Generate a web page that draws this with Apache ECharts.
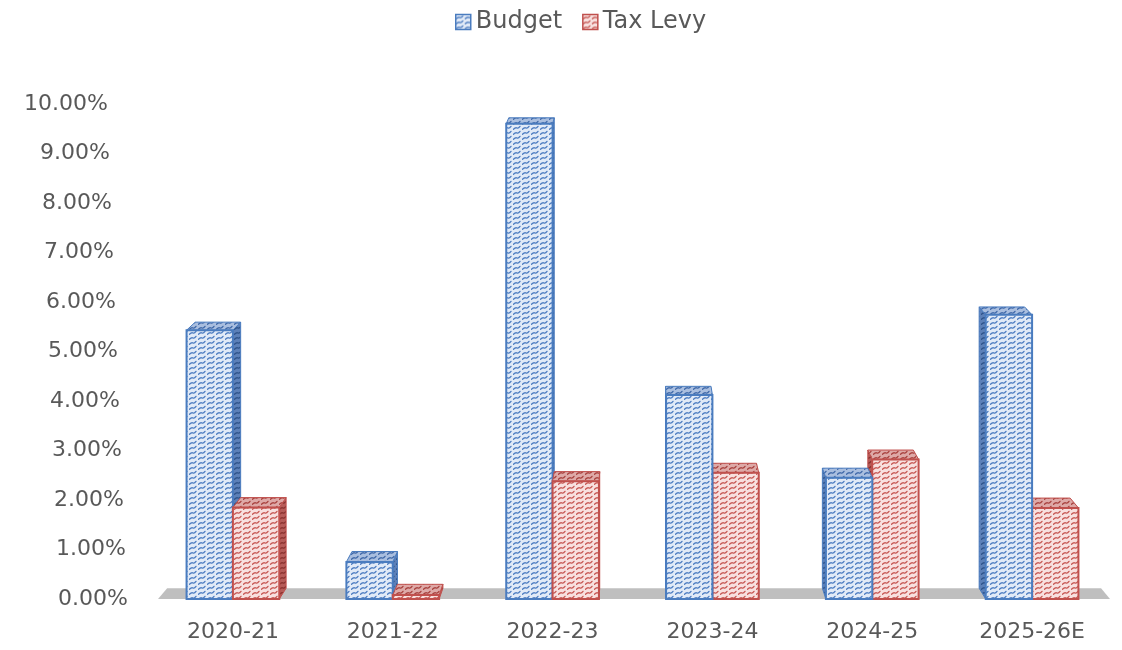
<!DOCTYPE html>
<html><head><meta charset="utf-8">
<script src="https://cdn.jsdelivr.net/npm/echarts@6/dist/echarts.min.js"></script>
<style>html,body{margin:0;padding:0;background:#fff}#c{width:1122px;height:650px}</style>
</head><body><div id="c"></div>
<script>
const categories = ['2020-21', '2021-22', '2022-23', '2023-24', '2024-25', '2025-26E'];
const budget = [5.43, 0.75, 9.6, 4.12, 2.45, 5.74];
const taxLevy = [1.85, 0.08, 2.38, 2.55, 2.82, 1.84];
const yMin = 0, yMax = 10, yStep = 1;

const FONT = 'DejaVu Sans';
const TXT = '#595959';

function pat(bg, fg) {
  const c = document.createElement('canvas');
  c.width = 9; c.height = 5;
  const g = c.getContext('2d');
  g.fillStyle = bg; g.fillRect(0, 0, 9, 5);
  g.strokeStyle = fg; g.lineWidth = 1.3; g.lineCap = 'round';
  g.beginPath();
  g.moveTo(0.5, 4.3); g.quadraticCurveTo(2.5, 2.2, 4, 3.0); g.quadraticCurveTo(5.5, 3.6, 7, 1.4);
  g.stroke();
  return { image: c, repeat: 'repeat' };
}
const P = {
  blue: { front: pat('#e1eaf7', '#4d7cc0'), top: pat('#a9bedf', '#3f68a8'), side: pat('#5c80b8', '#2e528a'), line: '#4a7cbf' },
  red: { front: pat('#f8e0df', '#c65854'), top: pat('#dea9a7', '#a8413e'), side: pat('#b65c59', '#88302e'), line: '#c0504d' }
};

const VX = 640, VY = -477, KX = 0.019, KY = 0.01;
function back(p) { return [p[0] + (VX - p[0]) * KX, p[1] + (VY - p[1]) * KY]; }

function makeRender(side, C) {
  return function (params, api) {
    const i = api.value(0), v = api.value(1);
    const c = api.coord([i, v]);
    const base = api.coord([i, 0]);
    const band = api.size([1, 0])[0];
    const w = band * 0.29;
    const xl = side < 0 ? c[0] - w : c[0];
    const xr = xl + w;
    const yt = c[1], yb = base[1];
    const FL = [xl, yt], FR = [xr, yt], FLb = [xl, yb], FRb = [xr, yb];
    const BL = back(FL), BR = back(FR);
    const leftRegion = (VX - c[0]) > 0;
    const order = leftRegion ? (side < 0 ? 0 : 1) : (side < 0 ? 1 : 0);
    const z = 10 + order * 5;
    const children = [];
    if (BR[0] > FR[0] + 0.3) {
      children.push({ type: 'polygon', z2: z, shape: { points: [FR, BR, back(FRb), FRb] },
        style: { fill: C.side, stroke: C.line, lineWidth: 1 } });
    }
    if (BL[0] < FL[0] - 0.3) {
      children.push({ type: 'polygon', z2: z, shape: { points: [FL, BL, back(FLb), FLb] },
        style: { fill: C.side, stroke: C.line, lineWidth: 1 } });
    }
    children.push({ type: 'polygon', z2: z + 1, shape: { points: [FL, FR, BR, BL] },
      style: { fill: C.top, stroke: C.line, lineWidth: 1 } });
    children.push({ type: 'rect', z2: z + 2, shape: { x: xl, y: yt, width: w, height: yb - yt },
      style: { fill: C.front, stroke: C.line, lineWidth: 2 } });
    return { type: 'group', children: children };
  };
}

function floorRender(params, api) {
  const band = api.size([1, 0])[0];
  const p0 = api.coord([0, 0]);
  const p1 = api.coord([categories.length - 1, 0]);
  const x0 = p0[0] - band / 2 + 5, x1 = p1[0] + band / 2 - 2, y = p0[1];
  return { type: 'polygon', z2: 1, shape: { points: [[x0, y], [x1, y], back([x1, y]), back([x0, y])] },
    style: { fill: '#bfbfbf' } };
}

const rich = {};
for (let t = yMin; t <= yMax; t += yStep) {
  rich['t' + t] = { fontFamily: FONT, fontSize: 22, color: TXT, padding: [0, t * 2, 0, 0] };
}

const chart = echarts.init(document.getElementById('c'));
chart.setOption({
  animation: false,
  backgroundColor: '#fff',
  legend: {
    left: 450, top: 5, itemWidth: 15, itemHeight: 15, itemGap: 20,
    textStyle: { fontFamily: FONT, fontSize: 24, color: TXT },
    data: [
      { name: 'Budget', icon: 'rect', itemStyle: { color: P.blue.front, borderColor: P.blue.line, borderWidth: 1.5 } },
      { name: 'Tax Levy', icon: 'rect', itemStyle: { color: P.red.front, borderColor: P.red.line, borderWidth: 1.5 } }
    ]
  },
  grid: { left: 153, right: 10, top: 104, bottom: 51 },
  xAxis: {
    type: 'category', data: categories,
    axisLine: { show: false }, axisTick: { show: false },
    axisLabel: { margin: 22, fontFamily: FONT, fontSize: 22, color: TXT }
  },
  yAxis: {
    type: 'value', min: yMin, max: yMax, interval: yStep,
    splitLine: { show: false }, axisLine: { show: false }, axisTick: { show: false },
    axisLabel: {
      margin: 25, fontFamily: FONT, fontSize: 22, color: TXT,
      formatter: function (v) { return '{t' + v + '|' + v.toFixed(2) + '%}'; },
      rich: rich
    }
  },
  series: [
    { name: 'floor', type: 'custom', silent: true, renderItem: floorRender, data: [[0, 0]] },
    { name: 'Budget', type: 'custom', renderItem: makeRender(-1, P.blue),
      itemStyle: { color: P.blue.front, borderColor: P.blue.line },
      data: budget.map(function (v, i) { return [i, v]; }) },
    { name: 'Tax Levy', type: 'custom', renderItem: makeRender(1, P.red),
      itemStyle: { color: P.red.front, borderColor: P.red.line },
      data: taxLevy.map(function (v, i) { return [i, v]; }) }
  ]
});
</script>
</body></html>
